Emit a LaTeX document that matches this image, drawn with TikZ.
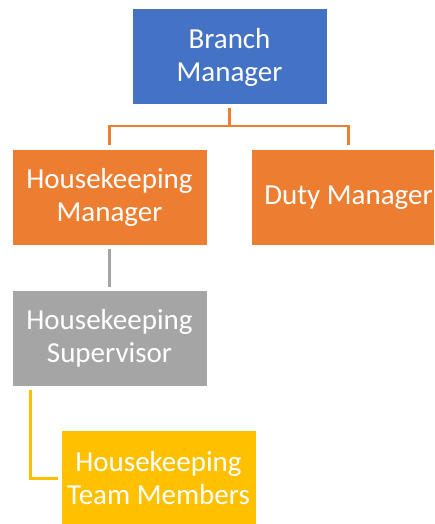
\documentclass[tikz,border=0pt]{standalone}
\usepackage{fontspec}
\setmainfont{Carlito}
\definecolor{cblue}{HTML}{4472C4}
\definecolor{corange}{HTML}{ED7D31}
\definecolor{cgray}{HTML}{A5A5A5}
\definecolor{cyellow}{HTML}{FFC000}
\tikzset{
  box/.style={draw=white, line width=1pt, minimum width=195pt, minimum height=96pt,
    inner sep=0pt, align=center, text=white, font=\fontsize{29}{33}\selectfont},
  conn/.style={line width=2.2pt}
}
\begin{document}
\begin{tikzpicture}[x=1pt,y=1pt]
\useasboundingbox (0,0) rectangle (434,-524);
\clip (0,0) rectangle (434,-524);
\node[box, fill=cblue] (bm) at (229.5,-57) {Branch\\Manager};
\node[box, fill=corange] (hm) at (109.5,-197.5) {Housekeeping\\Manager};
\node[box, fill=corange] (dm) at (348.5,-197.5) {Duty Manager};
\node[box, fill=cgray] (hs) at (109.5,-338) {Housekeeping\\Supervisor};
\node[box, fill=cyellow] (tm) at (158.5,-478.5) {Housekeeping\\Team Members};
\coordinate (j) at (229.5,-126);
\draw[conn, corange] ([yshift=-3pt]bm.south) -- (j);
\draw[conn, corange] ([yshift=4pt]hm.north) |- (j) -| ([yshift=4pt]dm.north);
\draw[conn, cgray] ([yshift=-3pt]hm.south) -- ([yshift=3pt]hs.north);
\draw[conn, cyellow] ([xshift=-79pt,yshift=-3pt]hs.south) |- ([xshift=-3pt]tm.west);
\end{tikzpicture}
\end{document}
